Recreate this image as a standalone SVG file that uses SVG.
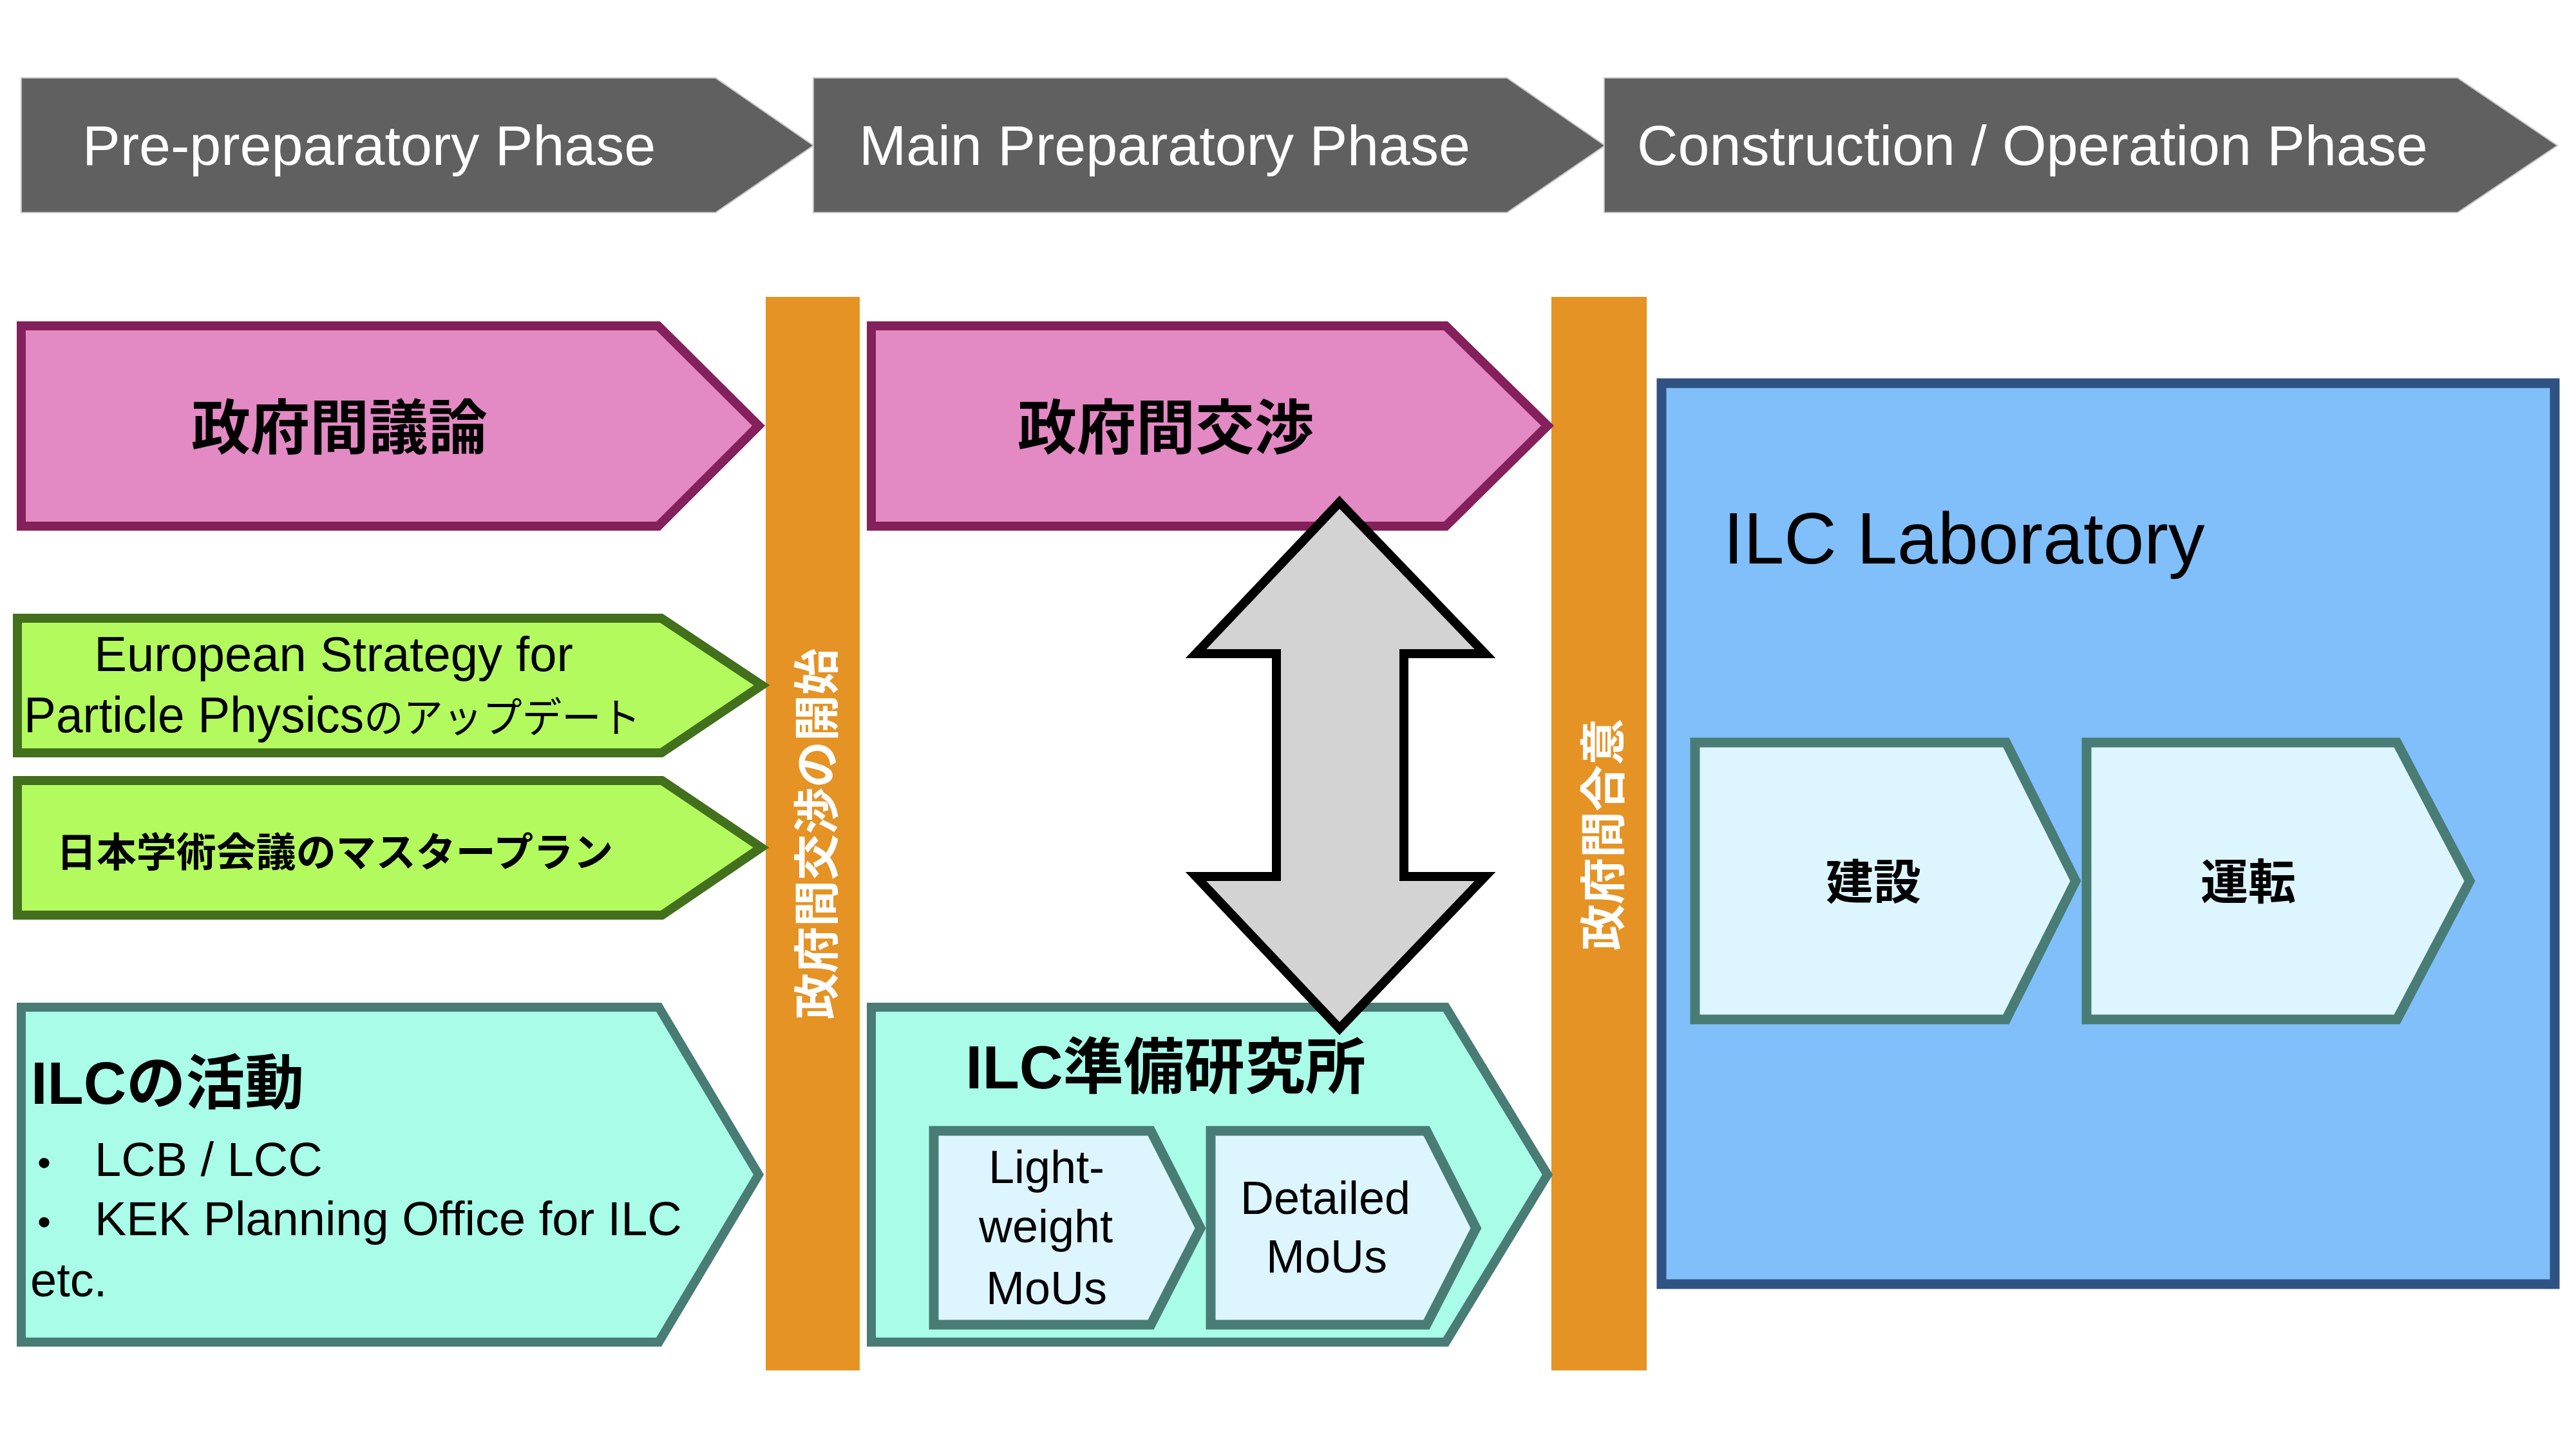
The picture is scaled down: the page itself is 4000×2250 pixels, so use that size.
<svg xmlns="http://www.w3.org/2000/svg" width="4000" height="2250" viewBox="0 0 4000 2250">
<style>
.bg{fill:#ffffff}
.phase{fill:#606060;stroke:#c4c4c4;stroke-width:2}
.phase-t{font-family:"Liberation Sans","Noto Sans",sans-serif;font-size:88px;fill:#ffffff}
.bar{fill:#E59324}
.bar-t{font-family:"Noto Sans CJK JP","Noto Sans",sans-serif;font-size:72px;font-weight:700;fill:#ffffff}
.pink{fill:#E389C3;stroke:#84205B;stroke-width:14;stroke-linejoin:miter}
.green{fill:#B3FA5E;stroke:#43701C;stroke-width:14}
.teal{fill:#A8FCE8;stroke:#487C75;stroke-width:14}
.light{fill:#DDF5FF;stroke:#487C75;stroke-width:15}
.blue{fill:#80BFFA;stroke:#2F5282;stroke-width:15}
.jpb{font-family:"Liberation Sans","Noto Sans CJK JP",sans-serif;font-weight:700;fill:#000000}
.lat{font-family:"Liberation Sans","Noto Sans CJK JP",sans-serif;fill:#000000}
.arrow{fill:#D3D3D3;stroke:#000000;stroke-width:14;stroke-linejoin:miter}
</style>
<rect class="bg" x="0" y="0" width="4000" height="2250"/>

<g id="phase-pre">
<polygon class="phase" points="33,121 1111,121 1263,226 1111,330 33,330"/>
<text class="phase-t" x="128" y="256">Pre-preparatory Phase</text>
</g>
<g id="phase-main">
<polygon class="phase" points="1263,121 2340,121 2492,226 2340,330 1263,330"/>
<text class="phase-t" x="1334" y="256">Main Preparatory Phase</text>
</g>
<g id="phase-construction">
<polygon class="phase" points="2491,121 3816,121 3971,226 3816,330 2491,330"/>
<text class="phase-t" x="2542" y="256">Construction / Operation Phase</text>
</g>

<g id="bar-start">
<rect class="bar" x="1189" y="461" width="146" height="1667"/>
<text class="bar-t" x="0" y="0" text-anchor="middle" dominant-baseline="central" transform="translate(1262,1295) rotate(-90)">政府間交渉の開始</text>
</g>
<g id="bar-agreement">
<rect class="bar" x="2409" y="461" width="148" height="1667"/>
<text class="bar-t" x="0" y="0" text-anchor="middle" dominant-baseline="central" transform="translate(2483,1296) rotate(-90)">政府間合意</text>
</g>

<g id="gov-discussion">
<polygon class="pink" points="33,506 1022,506 1178,661 1022,817 33,817"/>
<text class="jpb" x="527" y="697" font-size="92" text-anchor="middle">政府間議論</text>
</g>
<g id="gov-negotiation">
<polygon class="pink" points="1353,506 2245,506 2403,661 2245,817 1353,817"/>
<text class="jpb" x="1810" y="697" font-size="92" text-anchor="middle">政府間交渉</text>
</g>

<g id="european-strategy">
<polygon class="green" points="27,960 1027,960 1183,1064 1027,1169 27,1169"/>
<text class="lat" x="518" y="1042" font-size="76" text-anchor="middle">European Strategy for</text>
<text class="lat" x="37" y="1137" font-size="78" textLength="958" lengthAdjust="spacingAndGlyphs">Particle Physics<tspan font-size="64">のアップデート</tspan></text>
</g>
<g id="masterplan">
<polygon class="green" points="27,1212 1028,1212 1182,1316 1028,1421 27,1421"/>
<text class="lat" x="520" y="1346" font-size="62" font-weight="700" text-anchor="middle">日本学術会議のマスタープラン</text>
</g>

<g id="ilc-activities">
<polygon class="teal" points="33,1564 1023,1564 1178,1824 1023,2084 33,2084"/>
<text class="jpb" x="48" y="1714" font-size="92">ILCの活動</text>
<text class="lat" x="58" y="1826" font-size="60">•</text>
<text class="lat" x="147" y="1826" font-size="74">LCB / LCC</text>
<text class="lat" x="58" y="1918" font-size="60">•</text>
<text class="lat" x="147" y="1918" font-size="74">KEK Planning Office for ILC</text>
<text class="lat" x="47" y="2013" font-size="74">etc.</text>
</g>

<g id="ilc-pre-lab">
<polygon class="teal" points="1353,1564 2245,1564 2403,1824 2245,2084 1353,2084"/>
<text class="jpb" x="1810" y="1690" font-size="94" text-anchor="middle">ILC準備研究所</text>
</g>
<g id="lightweight-mous">
<polygon class="light" points="1450,1756 1787,1756 1864,1907 1787,2057 1450,2057"/>
<text class="lat" x="1625" y="1837" font-size="72" text-anchor="middle">Light-</text>
<text class="lat" x="1624" y="1929" font-size="72" text-anchor="middle">weight</text>
<text class="lat" x="1625" y="2025" font-size="72" text-anchor="middle">MoUs</text>
</g>
<g id="detailed-mous">
<polygon class="light" points="1880,1756 2215,1756 2292,1907 2215,2057 1880,2057"/>
<text class="lat" x="2058" y="1885" font-size="72" text-anchor="middle">Detailed</text>
<text class="lat" x="2060" y="1976" font-size="72" text-anchor="middle">MoUs</text>
</g>

<g id="ilc-laboratory">
<rect class="blue" x="2580" y="595" width="1387" height="1399"/>
<text class="lat" x="2676" y="875" font-size="113">ILC Laboratory</text>
</g>
<g id="construction">
<polygon class="light" points="2632,1153 3115,1153 3223,1368 3115,1583 2632,1583"/>
<text class="jpb" x="2909" y="1396" font-size="74" text-anchor="middle">建設</text>
</g>
<g id="operation">
<polygon class="light" points="3240,1153 3722,1153 3835,1368 3722,1583 3240,1583"/>
<text class="jpb" x="3491" y="1396" font-size="74" text-anchor="middle">運転</text>
</g>

<g id="connectors">
<path class="arrow" d="M2080,780 L2306,1015 L2180,1015 L2180,1361 L2306,1361 L2080,1597 L1857,1361 L1982,1361 L1982,1015 L1857,1015 Z"/>
</g>
</svg>
